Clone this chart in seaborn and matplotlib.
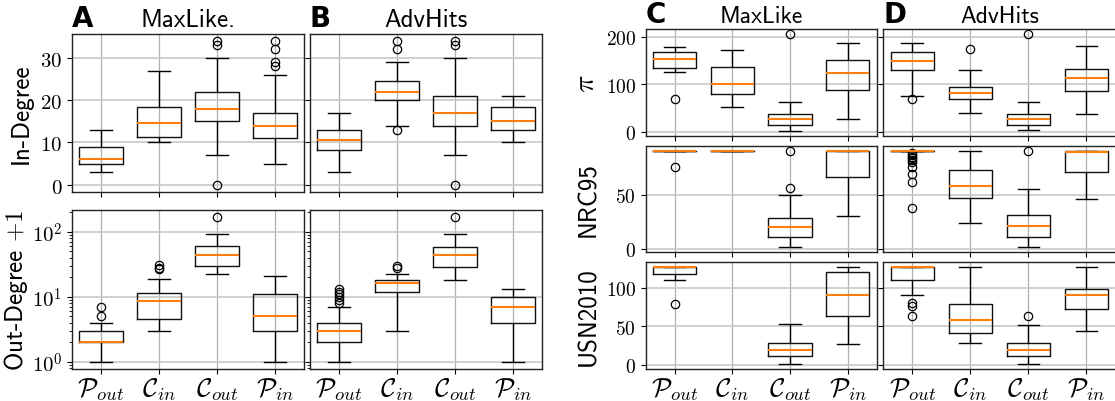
import numpy as np
import pandas as pd
import matplotlib
matplotlib.use("Agg")
import matplotlib.pyplot as plt
from matplotlib.ticker import FixedLocator, FuncFormatter, LogLocator, NullFormatter
import seaborn as sns

plt.rcParams["mathtext.fontset"] = "cm"
plt.rcParams["axes.unicode_minus"] = False

groups = [r"$\mathcal{P}_{out}$", r"$\mathcal{C}_{in}$",
          r"$\mathcal{C}_{out}$", r"$\mathcal{P}_{in}$"]

# Box summaries per group: (whisker low, Q1, median, Q3, whisker high); fliers listed separately
indeg_maxlike = [(3, 5, 6, 9, 13), (10, 11.3, 14.5, 18.3, 27), (7, 15, 18, 22, 30), (5, 11, 14, 17, 26)]
indeg_maxlike_fliers = [[], [], [0, 33, 34], [28, 29, 32, 34]]
indeg_advhits = [(3, 8.3, 10.5, 13, 17), (14, 20, 22, 24.5, 29), (7, 14, 17, 21, 30), (10, 13, 15, 18.3, 21)]
indeg_advhits_fliers = [[], [13, 32, 34], [0, 33, 34], []]

outdeg_maxlike = [(1, 2, 2, 3, 4), (3, 4.5, 8.5, 11.3, 19), (22, 30, 44, 60, 93), (1, 3, 5, 11, 21)]
outdeg_maxlike_fliers = [[5, 7], [27, 28, 31], [168], []]
outdeg_advhits = [(1, 2, 3, 4, 7), (3, 12, 16, 18, 22), (18, 29, 43, 58, 93), (1, 4, 7, 10, 13)]
outdeg_advhits_fliers = [[8, 9, 10, 11, 12, 13], [28, 30], [168], []]

pi_maxlike = [(125, 135, 153, 167, 179), (52, 80, 101, 137, 173), (2, 14, 26, 38, 63), (27, 87, 124, 152, 187)]
pi_maxlike_fliers = [[70], [], [206], []]
pi_advhits = [(76, 130, 148, 168, 187), (40, 69, 81, 95, 131), (3, 14, 27, 38, 63), (38, 86, 113, 133, 181)]
pi_advhits_fliers = [[70], [174], [206], []]

nrc_maxlike = [(91, 91, 91, 91, 91), (91, 91, 91, 91, 91), (1, 11, 20, 28, 50), (30, 66, 91, 91, 91)]
nrc_maxlike_fliers = [[76], [], [56, 91], []]
nrc_advhits = [(91, 91, 91, 91, 91), (24, 47, 58, 73, 91), (1, 11, 21, 31, 55), (46, 71, 90, 91, 91)]
nrc_advhits_fliers = [[38, 62, 69, 76, 80, 82, 84, 85, 87, 89], [], [91], []]

usn_maxlike = [(110, 118, 127, 127, 127), None, (1, 11, 20, 28, 53), (27, 63, 91, 121, 127)]
usn_maxlike_fliers = [[79], [], [], []]
usn_advhits = [(91, 110, 127, 127, 127), (28, 41, 58, 79, 127), (1, 11, 20, 28, 52), (44, 72, 91, 99, 127)]
usn_advhits_fliers = [[63, 77, 80], [], [63], []]


def expand(summary, fliers):
    """Sample whose quartiles, whisker ends and fliers equal the given summary."""
    lo, q1, med, q3, hi = summary
    low = sorted(f for f in fliers if f < lo)
    high = sorted(f for f in fliers if f > hi)
    m = max(len(low), len(high)) + 1
    vals = (low + [lo] + [q1] * (m - len(low) - 1)
            + [q1] + [med] * (m - 1) + [med] + [med] * (m - 1) + [q3]
            + [q3] * (m - len(high) - 1) + [hi] + high)
    return vals


def draw(ax, summaries, fliers):
    rows = []
    for g, s, f in zip(groups, summaries, fliers):
        if s is None:
            continue
        rows += [(g, v) for v in expand(s, f)]
    df = pd.DataFrame(rows, columns=["group", "value"])
    sns.boxplot(data=df, x="group", y="value", order=groups, ax=ax,
                width=0.75, fill=False, color="black", linewidth=1.0, whis=1.5,
                medianprops=dict(color="#ff7f0e", linewidth=1.5),
                boxprops=dict(color="#111111", linewidth=1.0),
                whiskerprops=dict(color="black", linewidth=1.0),
                capprops=dict(color="black", linewidth=1.0),
                flierprops=dict(marker="o", markersize=6, markerfacecolor="none",
                                markeredgecolor="black", markeredgewidth=0.9))
    ax.set_xlabel("")
    ax.set_ylabel("")


W, H = 1115, 402
fig = plt.figure(figsize=(W / 100, H / 100), dpi=100)


def px_axes(x0, y0, x1, y1, **kw):
    return fig.add_axes([x0 / W, 1 - y1 / H, (x1 - x0) / W, (y1 - y0) / H], **kw)


axA1 = px_axes(72, 34.7, 304, 193)
axB1 = px_axes(310, 34.7, 542.3, 193, sharey=axA1)
axA2 = px_axes(72, 210.7, 304, 370)
axB2 = px_axes(310, 210.7, 542.3, 370, sharey=axA2)

axC1 = px_axes(645.7, 30, 876.7, 136.7)
axD1 = px_axes(883.3, 30, 1115.5, 136.7, sharey=axC1)
axC2 = px_axes(645.7, 146.7, 876.7, 253.3)
axD2 = px_axes(883.3, 146.7, 1115.5, 253.3, sharey=axC2)
axC3 = px_axes(645.7, 263.3, 876.7, 370)
axD3 = px_axes(883.3, 263.3, 1115.5, 370, sharey=axC3)

draw(axA1, indeg_maxlike, indeg_maxlike_fliers)
draw(axB1, indeg_advhits, indeg_advhits_fliers)
draw(axA2, outdeg_maxlike, outdeg_maxlike_fliers)
draw(axB2, outdeg_advhits, outdeg_advhits_fliers)
draw(axC1, pi_maxlike, pi_maxlike_fliers)
draw(axD1, pi_advhits, pi_advhits_fliers)
draw(axC2, nrc_maxlike, nrc_maxlike_fliers)
draw(axD2, nrc_advhits, nrc_advhits_fliers)
draw(axC3, usn_maxlike, usn_maxlike_fliers)
draw(axD3, usn_advhits, usn_advhits_fliers)

# Out-degree panels on a log axis
axA2.set_yscale("log")
axA2.yaxis.set_major_locator(FixedLocator([1, 10, 100]))
axA2.yaxis.set_major_formatter(FuncFormatter(lambda v, p: r"$10^{%d}$" % round(np.log10(v))))
axA2.yaxis.set_minor_locator(LogLocator(base=10, subs=np.arange(2, 10)))
axA2.yaxis.set_minor_formatter(NullFormatter())

plain = FuncFormatter(lambda v, p: r"$%g$" % v)
axA1.yaxis.set_major_locator(FixedLocator([0, 10, 20, 30]))
axA1.yaxis.set_major_formatter(plain)
axC1.yaxis.set_major_locator(FixedLocator([0, 100, 200]))
axC1.yaxis.set_major_formatter(plain)
axC2.yaxis.set_major_locator(FixedLocator([0, 50]))
axC2.yaxis.set_major_formatter(plain)
axC3.yaxis.set_major_locator(FixedLocator([0, 50, 100]))
axC3.yaxis.set_major_formatter(plain)

left_axes = [axA1, axB1, axA2, axB2]
right_axes = [axC1, axD1, axC2, axD2, axC3, axD3]
for ax in left_axes + right_axes:
    ax.xaxis.grid(True, color="#b0b0b0", linewidth=0.9)
    ax.yaxis.grid(True, which="major", color="#c8c8c8", linewidth=1.2)
    ax.set_axisbelow(True)
    for sp in ax.spines.values():
        sp.set_linewidth(1.0)
        sp.set_color("#222222")
    ax.tick_params(axis="x", labelsize=19, length=3.5, pad=1)

for ax in left_axes:
    ax.tick_params(axis="y", labelsize=15, length=3.5)
for ax in right_axes:
    ax.tick_params(axis="y", labelsize=14, length=3.5)

for ax in [axB1, axB2, axD1, axD2, axD3]:
    ax.tick_params(axis="y", labelleft=False)
for ax in [axA1, axB1, axC1, axD1, axC2, axD2]:
    ax.tick_params(axis="x", labelbottom=False)

sans = "cmss10"
axA1.set_ylabel("In-Degree", family=sans, fontsize=18)
axA1.yaxis.set_label_coords(-0.168, 0.5)
axA2.set_ylabel("Out-Degree $+1$", family=sans, fontsize=18)
axA2.yaxis.set_label_coords(-0.18, 0.5)
axC1.set_ylabel(r"$\pi$", fontsize=21)
axC1.yaxis.set_label_coords(-0.198, 0.5)
axC2.set_ylabel("NRC95", family=sans, fontsize=18)
axC2.yaxis.set_label_coords(-0.198, 0.5)
axC3.set_ylabel("USN2010", family=sans, fontsize=18)
axC3.yaxis.set_label_coords(-0.198, 0.5)

for ax, letter, title, size, pad in [(axA1, "A", "MaxLike.", 18, 5.8), (axB1, "B", "AdvHits", 18, 5.8),
                                     (axC1, "C", "MaxLike", 17, 4.8), (axD1, "D", "AdvHits", 17, 4.8)]:
    ax.set_title(title, family=sans, fontsize=size, pad=pad)
    ax.annotate(letter, xy=(0, 1), xycoords="axes fraction", xytext=(0, pad),
                textcoords="offset points", ha="left", va="baseline",
                fontsize=20, fontweight="bold", family="DejaVu Sans")

fig.savefig("out.png", dpi=100)
